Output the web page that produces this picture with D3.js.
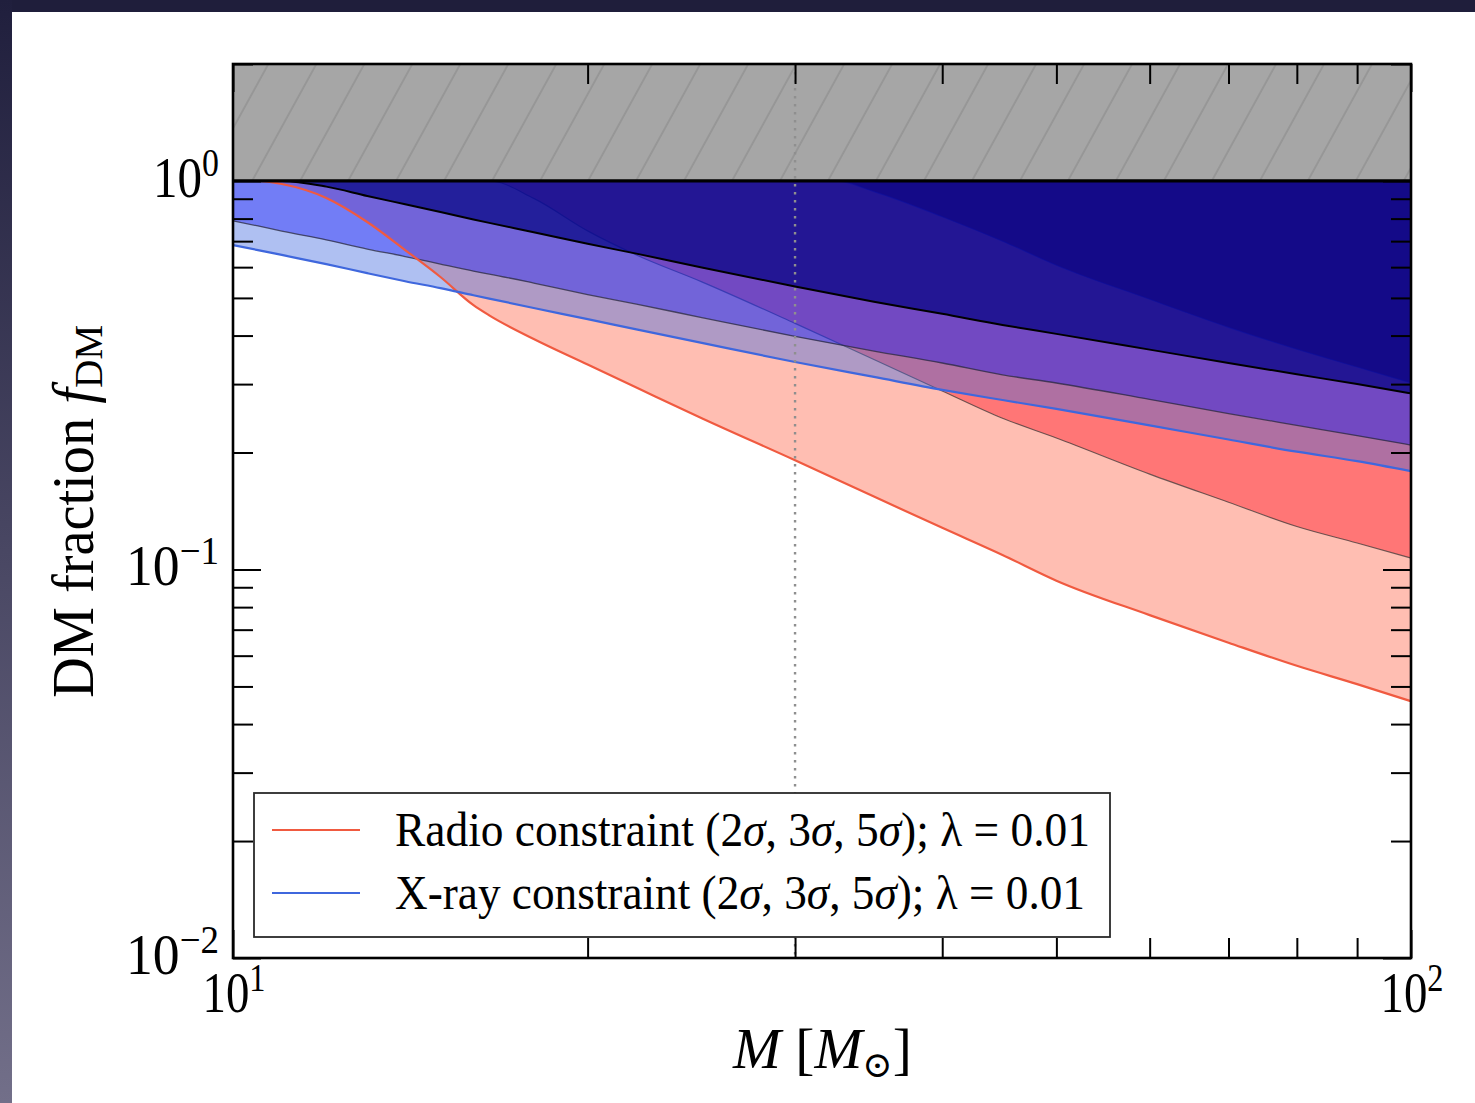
<!DOCTYPE html>
<html>
<head>
<meta charset="utf-8">
<script src="https://cdn.jsdelivr.net/npm/d3@7"></script>
<style>
  html, body { margin: 0; padding: 0; background: #fff; }
  svg { display: block; }
  text { font-family: "Liberation Serif", "DejaVu Serif", serif; fill: #000; }
</style>
</head>
<body>
<svg id="chart" width="1475" height="1103"></svg>
<script>
// black hole mass grid (solar masses)
var massGrid = [10, 10.5, 11, 12, 13, 14, 15, 16, 16.5, 18, 20, 22, 25, 30, 35, 40, 45, 50, 60, 70, 80, 90, 100];

// radio constraints on f_DM, lambda = 0.01
var radio2sigma = [1, 1, 0.982, 0.904, 0.784, 0.664, 0.566, 0.479, 0.451, 0.392, 0.337, 0.294, 0.245, 0.191, 0.154, 0.128, 0.109, 0.0936, 0.0763, 0.0648, 0.0565, 0.0507, 0.0458];
var radio3sigma = [1, 1, 1, 1, 1, 1, 1, 1, 1, 0.902, 0.744, 0.645, 0.550, 0.430, 0.347, 0.288, 0.245, 0.218, 0.176, 0.149, 0.129, 0.117, 0.107];
var radio5Mass = [10, 32.5, 35, 40, 45, 50, 60, 70, 80, 90, 100];
var radio5sigma = [1, 1, 0.939, 0.809, 0.700, 0.607, 0.496, 0.420, 0.369, 0.332, 0.302];

// X-ray constraints on f_DM, lambda = 0.01
var xray2sigma = [0.684, 0.664, 0.645, 0.611, 0.579, 0.552, 0.530, 0.508, 0.498, 0.471, 0.441, 0.415, 0.383, 0.342, 0.313, 0.290, 0.273, 0.259, 0.235, 0.216, 0.201, 0.190, 0.179];
var xray3sigma = [0.789, 0.766, 0.743, 0.705, 0.668, 0.639, 0.611, 0.586, 0.576, 0.546, 0.510, 0.482, 0.445, 0.398, 0.365, 0.340, 0.317, 0.302, 0.274, 0.252, 0.235, 0.221, 0.209];
var xray5sigma = [1, 1, 1, 0.967, 0.915, 0.871, 0.832, 0.796, 0.780, 0.738, 0.689, 0.650, 0.599, 0.535, 0.489, 0.455, 0.426, 0.404, 0.368, 0.340, 0.318, 0.300, 0.284];

var xMajorTicks = [10, 100];
var xMinorTicks = [20, 30, 40, 50, 60, 70, 80, 90];
var yMajorTicks = [0.01, 0.1, 1];
var yMinorTicks = [0.02, 0.03, 0.04, 0.05, 0.06, 0.07, 0.08, 0.09, 0.2, 0.3, 0.4, 0.5, 0.6, 0.7, 0.8, 0.9, 2];
var xTickLabels = [{v: 10, exp: '1'}, {v: 100, exp: '2'}];
var yTickLabels = [{v: 1, exp: '0'}, {v: 0.1, exp: '\u22121'}, {v: 0.01, exp: '\u22122'}];
var markerMass = 30;

var svg = d3.select('#chart');
var W = 1475, H = 1103;
var plot = {left: 233, right: 1411, top: 64, bottom: 958};

var x = d3.scaleLog().domain([10, 100]).range([plot.left, plot.right]);
var y = d3.scaleLog().domain([0.01, 2]).range([plot.bottom, plot.top]);

var defs = svg.append('defs');

// slide background frame
var grad = defs.append('linearGradient').attr('id', 'sideGrad')
    .attr('x1', 0).attr('y1', 0).attr('x2', 0).attr('y2', 1);
grad.append('stop').attr('offset', '0%').attr('stop-color', '#201f3d');
grad.append('stop').attr('offset', '100%').attr('stop-color', '#726f89');
svg.append('rect').attr('width', W).attr('height', H).attr('fill', '#1f1e3b');
svg.append('rect').attr('width', 12).attr('height', H).attr('fill', 'url(#sideGrad)');
svg.append('rect').attr('x', 12).attr('y', 12).attr('width', W - 12).attr('height', H - 12).attr('fill', '#fff');

defs.append('clipPath').attr('id', 'plotClip')
  .append('rect').attr('x', plot.left).attr('y', plot.top)
    .attr('width', plot.right - plot.left).attr('height', plot.bottom - plot.top);

// hatch for the f > 1 region
var hatch = defs.append('pattern').attr('id', 'hatch')
    .attr('patternUnits', 'userSpaceOnUse')
    .attr('width', 42.05).attr('height', 20)
    .attr('patternTransform', 'rotate(28.8)');
hatch.append('line').attr('x1', 13.7).attr('x2', 13.7).attr('y1', -5).attr('y2', 25)
    .attr('stroke', 'rgba(70,70,70,0.32)').attr('stroke-width', 1);

var body = svg.append('g').attr('clip-path', 'url(#plotClip)');

function series(vals, masses) {
  masses = masses || massGrid;
  return masses.map(function (m, i) { return {m: m, v: vals[i]}; });
}

var area = d3.area()
    .x(function (d) { return x(d.m); })
    .y0(y(1))
    .y1(function (d) { return y(d.v); })
    .curve(d3.curveMonotoneX);
var line = d3.line()
    .x(function (d) { return x(d.m); })
    .y(function (d) { return y(d.v); })
    .curve(d3.curveMonotoneX);

// fills: radio first, X-ray on top (alpha blended)
var layers = [
  {data: series(radio2sigma), fill: 'rgb(255,99,71)', op: 0.42},
  {data: series(radio3sigma), fill: 'rgb(255,45,58)', op: 0.5, edge: 'rgba(50,50,50,0.7)', ew: 1.2},
  {data: series(radio5sigma, radio5Mass), fill: 'rgb(120,0,0)', op: 0.9, edge: 'rgba(40,40,200,0.55)', ew: 1.2},
  {data: series(xray2sigma), fill: 'rgb(65,105,225)', op: 0.42},
  {data: series(xray3sigma), fill: 'rgb(0,0,255)', op: 0.35, edge: 'rgba(40,40,60,0.75)', ew: 1.3},
  {data: series(xray5sigma), fill: 'rgb(0,0,128)', op: 0.69, edge: '#000', ew: 2}
];

layers.forEach(function (l) {
  body.append('path').datum(l.data).attr('d', area)
      .attr('fill', l.fill).attr('fill-opacity', l.op).attr('stroke', 'none');
  if (l.edge) {
    body.append('path').datum(l.data).attr('d', line)
        .attr('fill', 'none').attr('stroke', l.edge).attr('stroke-width', l.ew);
  }
});

// 2 sigma boundary lines on top
body.append('path').datum(series(radio2sigma)).attr('d', line)
    .attr('fill', 'none').attr('stroke', '#f05a40').attr('stroke-width', 2.2);
body.append('path').datum(series(xray2sigma)).attr('d', line)
    .attr('fill', 'none').attr('stroke', '#3f67dd').attr('stroke-width', 2.2);

// unphysical region f_DM > 1
body.append('rect').attr('x', plot.left).attr('y', y(2))
    .attr('width', plot.right - plot.left).attr('height', y(1) - y(2))
    .attr('fill', '#a6a6a6');
body.append('rect').attr('x', plot.left).attr('y', y(2))
    .attr('width', plot.right - plot.left).attr('height', y(1) - y(2))
    .attr('fill', 'url(#hatch)');

// dotted marker at M = 30
body.append('line').attr('x1', x(markerMass)).attr('x2', x(markerMass))
    .attr('y1', plot.top).attr('y2', plot.bottom)
    .attr('stroke', '#8f8f8f').attr('stroke-width', 2.4).attr('stroke-dasharray', '2.5,5.5');

body.append('line').attr('x1', plot.left).attr('x2', plot.right)
    .attr('y1', y(1)).attr('y2', y(1))
    .attr('stroke', '#000').attr('stroke-width', 3.2);

// ticks (inward, all four sides)
function tickAxis(axis, tx, ty) {
  var g = svg.append('g').attr('transform', 'translate(' + tx + ',' + ty + ')').call(axis);
  g.select('.domain').remove();
  g.selectAll('.tick line').attr('stroke', '#000').attr('stroke-width', 2);
  g.selectAll('.tick text').remove();
}
tickAxis(d3.axisLeft(y).tickValues(yMinorTicks).tickSize(-20), plot.left, 0);
tickAxis(d3.axisLeft(y).tickValues(yMajorTicks).tickSize(-28), plot.left, 0);
tickAxis(d3.axisRight(y).tickValues(yMinorTicks).tickSize(-20), plot.right, 0);
tickAxis(d3.axisRight(y).tickValues(yMajorTicks).tickSize(-28), plot.right, 0);
tickAxis(d3.axisBottom(x).tickValues(xMinorTicks).tickSize(-20), 0, plot.bottom);
tickAxis(d3.axisBottom(x).tickValues(xMajorTicks).tickSize(-28), 0, plot.bottom);
tickAxis(d3.axisTop(x).tickValues(xMinorTicks).tickSize(-20), 0, plot.top);
tickAxis(d3.axisTop(x).tickValues(xMajorTicks).tickSize(-28), 0, plot.top);

svg.append('rect').attr('x', plot.left).attr('y', plot.top)
    .attr('width', plot.right - plot.left).attr('height', plot.bottom - plot.top)
    .attr('fill', 'none').attr('stroke', '#000').attr('stroke-width', 2.6);

// tick labels 10^n
function powLabel(px, py, exp, anchor, len) {
  var t = svg.append('text').attr('x', px).attr('y', py)
      .attr('text-anchor', anchor).attr('font-size', 58)
      .attr('textLength', len).attr('lengthAdjust', 'spacingAndGlyphs');
  t.append('tspan').text('10');
  t.append('tspan').attr('font-size', 40).attr('dy', -21).text(exp);
}
yTickLabels.forEach(function (d) {
  powLabel(219, y(d.v) + 16, d.exp, 'end', d.exp.length > 1 ? 93 : 66);
});
xTickLabels.forEach(function (d) {
  powLabel(x(d.v) + 1, 1012, d.exp, 'middle', 63);
});

// axis titles
var xt = svg.append('text').attr('x', 733).attr('y', 1068).attr('font-size', 57)
    .attr('textLength', 179).attr('lengthAdjust', 'spacingAndGlyphs');
xt.append('tspan').attr('font-style', 'italic').text('M');
xt.append('tspan').text(' [');
xt.append('tspan').attr('font-style', 'italic').text('M');
xt.append('tspan').attr('font-size', 36).attr('dy', 9).text('\u2299');
xt.append('tspan').attr('dy', -9).text(']');

var yt = svg.append('text').attr('transform', 'translate(93,698) rotate(-90)')
    .attr('font-size', 59).attr('textLength', 373).attr('lengthAdjust', 'spacingAndGlyphs');
yt.append('tspan').text('DM fraction ');
yt.append('tspan').attr('font-style', 'italic').text('f');
yt.append('tspan').attr('font-size', 41).attr('dy', 9).text('DM');

// legend
var legendItems = [
  {label: 'Radio', color: '#f05a40', len: 695},
  {label: 'X-ray', color: '#3f67dd', len: 690}
];
var lg = svg.append('g');
lg.append('rect').attr('x', 254).attr('y', 793).attr('width', 856).attr('height', 144)
    .attr('fill', '#fff').attr('stroke', '#2a2a2a').attr('stroke-width', 1.8);
legendItems.forEach(function (d, i) {
  var cy = 830 + i * 63;
  lg.append('line').attr('x1', 272).attr('x2', 360).attr('y1', cy).attr('y2', cy)
      .attr('stroke', d.color).attr('stroke-width', 2.2);
  var t = lg.append('text').attr('x', 395).attr('y', cy + 16).attr('font-size', 48)
      .attr('textLength', d.len).attr('lengthAdjust', 'spacingAndGlyphs');
  t.append('tspan').text(d.label + ' constraint (2');
  t.append('tspan').attr('font-style', 'italic').text('\u03c3');
  t.append('tspan').text(', 3');
  t.append('tspan').attr('font-style', 'italic').text('\u03c3');
  t.append('tspan').text(', 5');
  t.append('tspan').attr('font-style', 'italic').text('\u03c3');
  t.append('tspan').text('); \u03bb = 0.01');
});
</script>
</body>
</html>
